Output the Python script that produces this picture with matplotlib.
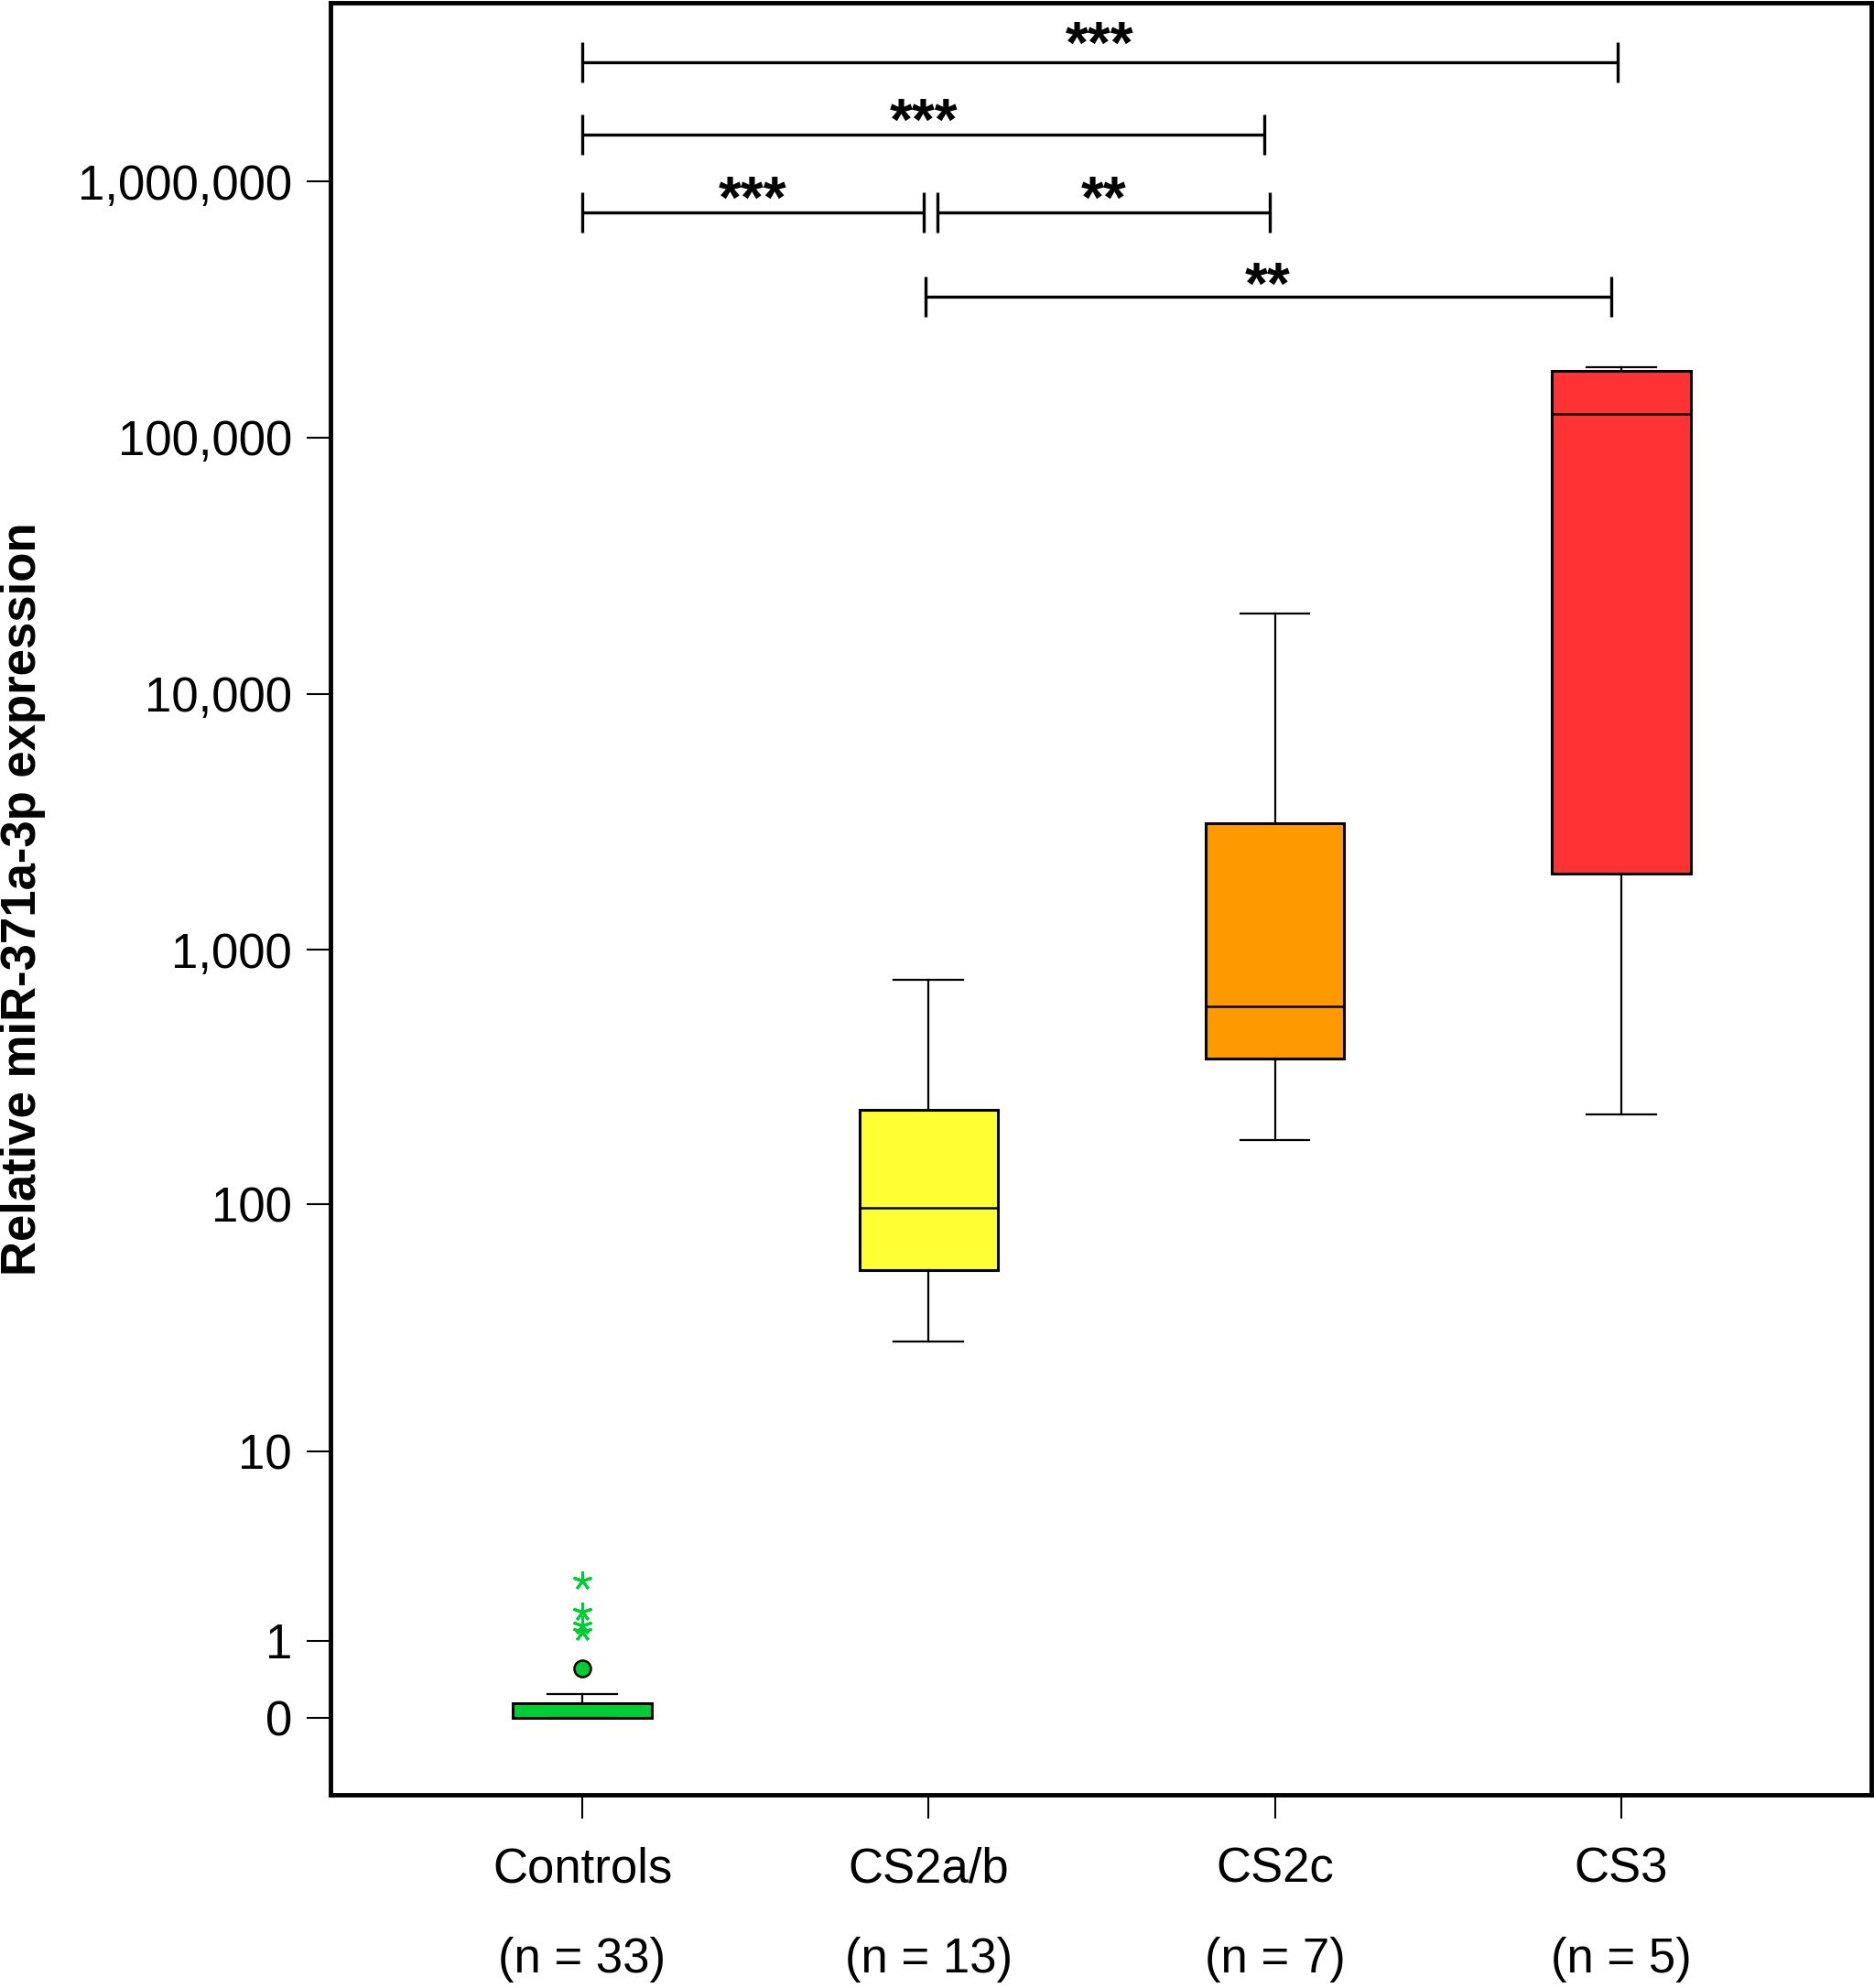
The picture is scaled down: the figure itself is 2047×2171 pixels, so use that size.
import numpy as np
import matplotlib
matplotlib.use('Agg')
import matplotlib.pyplot as plt

plt.rcParams['font.family'] = ['Liberation Sans', 'DejaVu Sans']

# data
groups = ['Controls', 'CS2a/b', 'CS2c', 'CS3']
n_cases = [33, 13, 7, 5]
medians = [0.0, 97, 602, 123500]
q1 = [0.0, 55, 375, 1984]
q3 = [0.14, 235, 3120, 183000]
whisker_lo = [0.0, 28.5, 180, 226]
whisker_hi = [0.24, 759, 20560, 188000]
outliers = [[0.56], [], [], []]
extremes = [[1.17, 1.30, 1.60, 2.44], [], [], []]
box_colors = ['#00cc33', '#ffff33', '#ff9900', '#ff3333']

yticks = [0, 1, 10, 100, 1000, 10000, 100000, 1000000]
ytick_labels = ['0', '1', '10', '100', '1,000', '10,000', '100,000', '1,000,000']

# significance brackets: x start, x end, level, label
br_x0 = [0.0, 0.0, 0.0, 1.026, 0.99]
br_x1 = [2.99, 1.97, 0.985, 1.985, 2.97]
br_y = [2.93e6, 1.53e6, 7.6e5, 7.6e5, 3.55e5]
br_lab = ['***', '***', '***', '**', '**']


def fwd(v):
    v = np.asarray(v, dtype=float)
    return np.log10(np.maximum(v + 1.0, 1e-12))


def inv(v):
    return 10.0 ** np.asarray(v, dtype=float) - 1.0


W, H, dpi = 2047, 2171, 100
fig = plt.figure(figsize=(W / dpi, H / dpi), dpi=dpi)
ax = fig.add_axes([361 / W, 1 - 1960 / H, (2044 - 361) / W, (1960 - 3) / H])
ax.set_yscale('function', functions=(fwd, inv))

stats = []
for i in range(len(groups)):
    stats.append(dict(med=medians[i], q1=q1[i], q3=q3[i],
                      whislo=whisker_lo[i], whishi=whisker_hi[i],
                      fliers=outliers[i], label=groups[i]))

bp = ax.bxp(stats, positions=range(len(groups)), widths=0.4,
            capwidths=0.2, patch_artist=True,
            boxprops=dict(linewidth=2.2, edgecolor='black'),
            whiskerprops=dict(linewidth=1.6, color='black'),
            capprops=dict(linewidth=1.6, color='black'),
            medianprops=dict(linewidth=1.8, color='black'),
            flierprops=dict(marker='o', markerfacecolor=box_colors[0],
                            markeredgecolor='black', markersize=13,
                            markeredgewidth=1.8))
for patch, c in zip(bp['boxes'], box_colors):
    patch.set_facecolor(c)

# extreme values drawn as asterisks
for i, ext in enumerate(extremes):
    if ext:
        ax.plot([i] * len(ext), ext, linestyle='none', marker=(5, 2, 0),
                color=box_colors[i], markersize=15, markeredgewidth=2.2)

# brackets
txt_off = [-0.5, -4.5, -4.5, -4.5, -5.5]
for k in range(len(br_lab)):
    y = br_y[k]
    ax.plot([br_x0[k], br_x1[k]], [y, y], color='black', lw=2.4,
            solid_capstyle='butt')
    for xe in (br_x0[k], br_x1[k]):
        ax.plot([xe, xe], [y / 1.2, y * 1.2], color='black', lw=2.4,
                solid_capstyle='butt')
    ax.annotate(br_lab[k], xy=((br_x0[k] + br_x1[k]) / 2, y),
                xytext=(0, txt_off[k]), textcoords='offset points',
                ha='center', va='baseline', fontsize=46, fontweight='bold')

ax.set_xlim(-0.727, 3.722)
ax.set_ylim(-0.5, 5.0e6)
ax.set_yticks(yticks)
ax.set_yticklabels(ytick_labels)
ax.yaxis.set_minor_locator(matplotlib.ticker.NullLocator())
ax.set_xticks(range(len(groups)))
ax.set_xticklabels(['%s\n(n = %d)' % (g, n) for g, n in zip(groups, n_cases)])
for t in ax.get_xticklabels():
    t.set_linespacing(2.25)

ax.tick_params(axis='both', direction='out', length=18.7, width=1.5,
               labelsize=38, color='black')
ax.tick_params(axis='y', pad=11.5)
ax.tick_params(axis='x', pad=22)
for s in ax.spines.values():
    s.set_linewidth(3.5)

fig.text(50 / W, 0.548, 'Relative miR-371a-3p expression', rotation=90,
         ha='right', va='center', fontsize=38, fontweight='bold')

fig.savefig('out.png', dpi=dpi)
